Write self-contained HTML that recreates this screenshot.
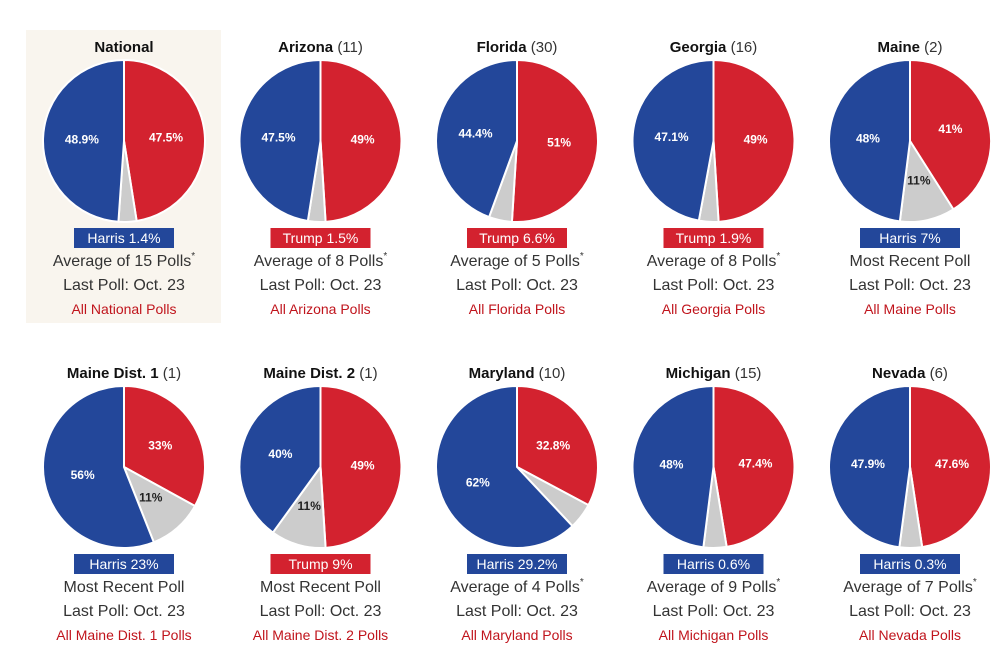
<!DOCTYPE html>
<html><head><meta charset="utf-8"><style>
body{margin:0;background:#fff;font-family:"Liberation Sans",sans-serif;}
svg text{font-family:"Liberation Sans",sans-serif;}
</style></head><body>
<svg id="c" width="1001" height="658" xmlns="http://www.w3.org/2000/svg"></svg>
<script>
const names=["National","Arizona","Florida","Georgia","Maine","Maine Dist. 1","Maine Dist. 2","Maryland","Michigan","Nevada"];
const votes=["","(11)","(30)","(16)","(2)","(1)","(1)","(10)","(15)","(6)"];
const trump=[47.5,49,51,49,41,33,49,32.8,47.4,47.6];
const harris=[48.9,47.5,44.4,47.1,48,56,40,62,48,47.9];
const trumpLbl=["47.5%","49%","51%","49%","41%","33%","49%","32.8%","47.4%","47.6%"];
const harrisLbl=["48.9%","47.5%","44.4%","47.1%","48%","56%","40%","62%","48%","47.9%"];
const otherLbl=["","","","","11%","11%","11%","","",""];
const badges=["Harris 1.4%","Trump 1.5%","Trump 6.6%","Trump 1.9%","Harris 7%","Harris 23%","Trump 9%","Harris 29.2%","Harris 0.6%","Harris 0.3%"];
const avgs=["Average of 15 Polls","Average of 8 Polls","Average of 5 Polls","Average of 8 Polls","Most Recent Poll","Most Recent Poll","Most Recent Poll","Average of 4 Polls","Average of 9 Polls","Average of 7 Polls"];
const links=["All National Polls","All Arizona Polls","All Florida Polls","All Georgia Polls","All Maine Polls","All Maine Dist. 1 Polls","All Maine Dist. 2 Polls","All Maryland Polls","All Michigan Polls","All Nevada Polls"];
const RED="#d3222f",BLUE="#23479a",GRAY="#cccccc";
const svg=document.getElementById('c');const NS="http://www.w3.org/2000/svg";
function mk(t,a,p){const e=document.createElementNS(NS,t);for(const k in a)e.setAttribute(k,a[k]);(p||svg).appendChild(e);return e;}
const R=81;
function pt(cx,cy,r,f){const a=f*2*Math.PI;return [cx+r*Math.sin(a),cy-r*Math.cos(a)];}
function arc(cx,cy,f0,f1){const p0=pt(cx,cy,R,f0),p1=pt(cx,cy,R,f1);const lg=(f1-f0)>0.5?1:0;return `M${cx},${cy}L${p0[0]},${p0[1]}A${R},${R} 0 ${lg} 1 ${p1[0]},${p1[1]}Z`;}
names.forEach((n,i)=>{
 const col=i%5,row=Math.floor(i/5);
 const cx=124+col*196.5,oy=row*326,cy=141+oy;
 const g=mk('g',{});
 
 
 if(i===0){const bg=mk('rect',{x:26,y:30,width:195,height:293,fill:'#f9f5ee'},g);}
 const t=mk('text',{x:cx,y:52+oy,'text-anchor':'middle','font-size':15,fill:'#111'},g);
 
 t.innerHTML=`<tspan font-weight="bold">${n}</tspan>`+(votes[i]?` <tspan fill="#333">${votes[i]}</tspan>`:'');
 const tot=100,ft=trump[i]/tot,fh=harris[i]/tot,fo=1-ft-fh;
 const segs=[[0,ft,RED,trumpLbl[i],'#fff','trump-slice'],[ft,ft+fo,GRAY,otherLbl[i],'#222','other-slice'],[ft+fo,1,BLUE,harrisLbl[i],'#fff','harris-slice']];
 segs.forEach(s=>{
  const p=mk('path',{d:arc(cx,cy,s[0],s[1]),fill:s[2],stroke:'#fff','stroke-width':2},g);
  
  if(s[3]){const m=(s[0]+s[1])/2;const q=pt(cx,cy,s[5]==='other-slice'?R*0.5:R*0.52,m);
   const l=mk('text',{x:q[0],y:q[1]+4,'text-anchor':'middle','font-size':12,'font-weight':'bold',fill:s[4]},g);
   l.textContent=s[3];}
 });
 const isT=badges[i].startsWith('Trump');
 const b=mk('rect',{x:cx-50,y:228+oy,width:100,height:20,fill:isT?RED:BLUE},g);
 
 const bt=mk('text',{x:cx,y:243+oy,'text-anchor':'middle','font-size':14,fill:'#fff'},g);
 bt.textContent=badges[i];
 const a=mk('text',{x:cx,y:266+oy,'text-anchor':'middle','font-size':16,fill:'#333'},g);
 
 a.innerHTML=avgs[i]+(avgs[i].startsWith('Average')?'<tspan font-size="10" dy="-7">*</tspan>':'');
 const lp=mk('text',{x:cx,y:290+oy,'text-anchor':'middle','font-size':16,fill:'#333'},g);
 lp.textContent='Last Poll: Oct. 23';
 const lk=mk('text',{x:cx,y:314+oy,'text-anchor':'middle','font-size':14,fill:'#c0141c'},g);
 lk.textContent=links[i];
});
</script>
</body></html>
